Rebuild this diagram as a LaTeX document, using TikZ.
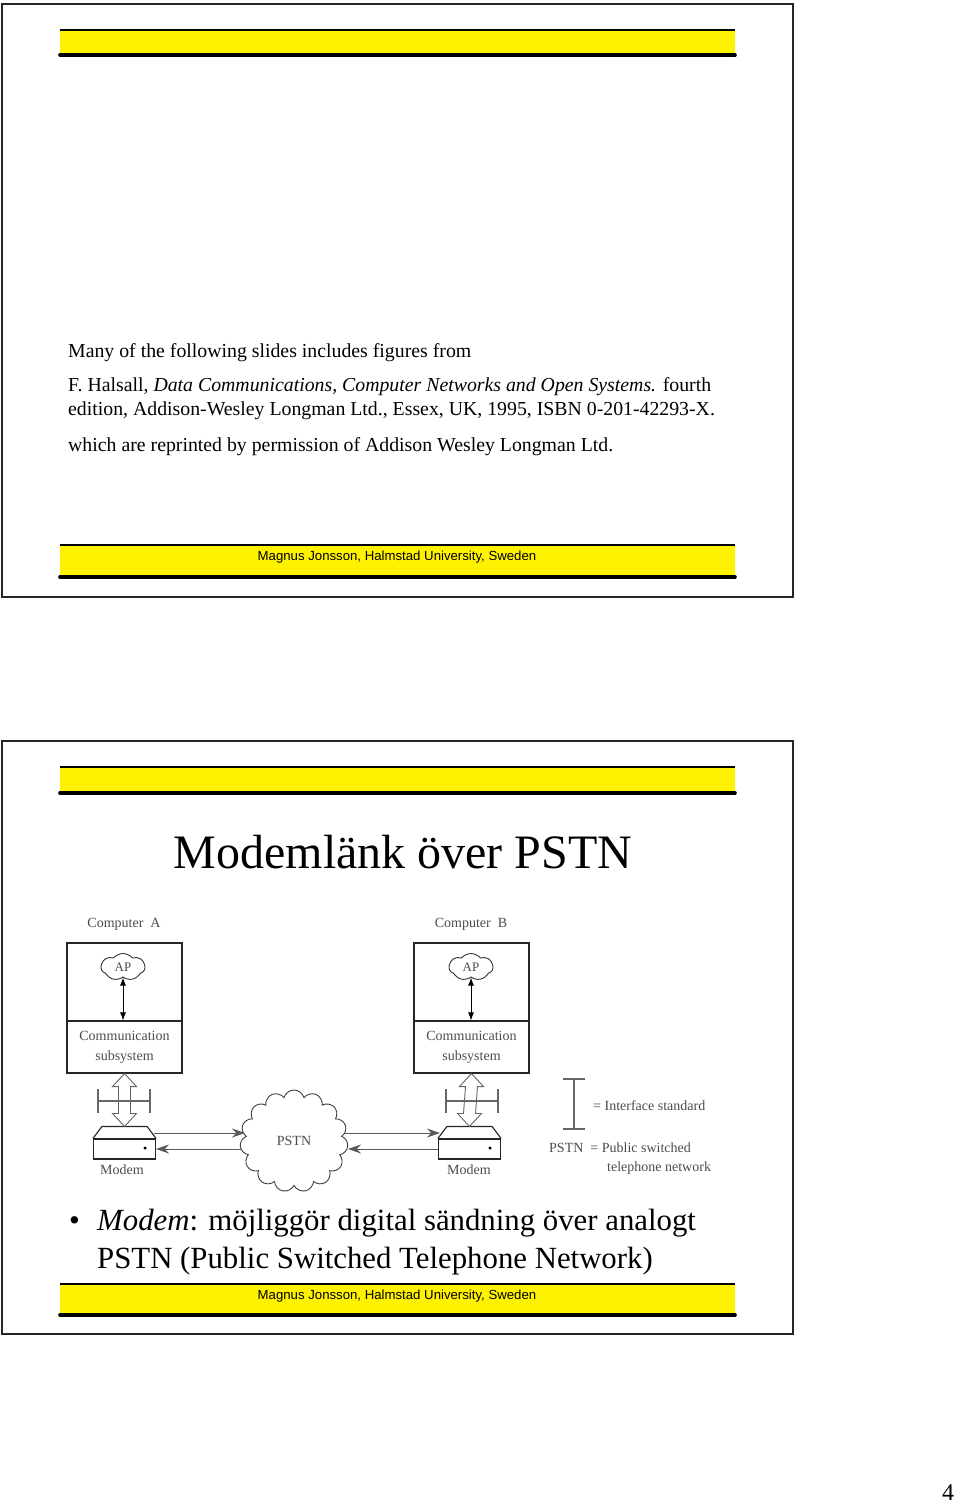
\documentclass[tikz,border=0pt]{standalone}
\usepackage{fontspec}
\setmainfont{Liberation Serif}
\newfontfamily\arialf{Liberation Sans}
\usetikzlibrary{shapes.symbols,arrows.meta,calc}
\tikzset{
  slideframe/.style={draw=black!85, line width=1.6pt},
  ybar/.style={fill=yellow, draw=none},
  bartop/.style={line width=1.8pt},
  barbot/.style={line width=3.6pt, line cap=round},
  foottext/.style={font=\arialf\fontsize{13.2}{15}\selectfont, inner sep=0},
  bodytext/.style={font=\fontsize{19.8}{22}\selectfont, anchor=base west, inner sep=0},
  bigtext/.style={font=\fontsize{30.8}{34}\selectfont, anchor=base west, inner sep=0},
  lbl/.style={font=\fontsize{14}{20}\selectfont, text=black!70, inner sep=0},
  box/.style={draw=black!85, line width=1.1pt, minimum width=115pt, inner sep=0,
     font=\fontsize{14}{20}\selectfont, text=black!70},
  apcloud/.style={cloud, cloud puffs=7, cloud puff arc=100, cloud ignores aspect, draw=black!80, line width=0.9pt,
     minimum width=44pt, minimum height=27pt, inner sep=0, font=\fontsize{13}{14}\selectfont, text=black!70},
  netcloud/.style={cloud, cloud puffs=15, cloud ignores aspect, draw=black!75, line width=0.9pt,
     minimum width=108pt, minimum height=102pt, inner sep=0, font=\fontsize{14}{14}\selectfont, text=black!70},
  modembox/.style={draw=black!85, line width=1.1pt, minimum width=62pt, minimum height=20pt, inner sep=0},
  dblarr/.style={{Latex[length=8pt,width=6pt]}-{Latex[length=8pt,width=6pt]}, line width=0.9pt},
  sarr/.style={-{Stealth[length=13pt,width=9pt]}, draw=black!65, line width=0.9pt},
  hollowarr/.style={draw=black!60, line width=0.9pt},
  iface/.style={draw=black!60, line width=1.4pt},
}
\newcommand\hollowdarrow[2]{%
  \draw[hollowarr] (#1) -- ++(12,13) -- ++(-6,0) -- ($(#2)+(6,-13)$) -- ++(6,0) -- (#2)
    -- ++(-12,-13) -- ++(6,0) -- ($(#1)+(-6,13)$) -- ++(-6,0) -- cycle;}
\newcommand\ifacesym[3]{% x left, x right, y
  \draw[iface] (#1,#3-12) -- (#1,#3+12) (#1,#3) -- (#2,#3) (#2,#3-12) -- (#2,#3+12);}
\newcommand\yellowbar[2]{% y top, y bottom
  \fill[ybar] (60,#1) rectangle (735,#2);
  \draw[bartop] (60,#1) -- (735,#1);
  \draw[barbot] (60,#2) -- (735,#2);}
\begin{document}
\begin{tikzpicture}[x=1pt,y=-1pt]
\useasboundingbox (0,0) rectangle (960,1506);
\fill[white] (0,0) rectangle (960,1506);

% ---------------- slide 1 ----------------
\draw[slideframe] (2,4) rectangle (793,597);
\yellowbar{30}{55}
\node[bodytext] (l1) at (68,357) {Many of the following slides includes figures from};
\node[bodytext] (l2) at (68,391) {F. Halsall, \textit{Data Communications, Computer Networks and Open Systems.} fourth};
\node[bodytext] (l3) at (68,415) {edition, Addison-Wesley Longman Ltd., Essex, UK, 1995, ISBN 0-201-42293-X.};
\node[bodytext] (l4) at (68,451) {which are reprinted by permission of Addison Wesley Longman Ltd.};
\yellowbar{545}{577}
\node[foottext] (f1) at (397,557) {Magnus Jonsson, Halmstad University, Sweden};

% ---------------- slide 2 ----------------
\draw[slideframe] (2,741) rectangle (793,1334);
\yellowbar{767}{793}
\node[font=\fontsize{48}{54}\selectfont, inner sep=0, anchor=base] (title) at (403,868) {Modemlänk över PSTN};

% computer A
\node[lbl] (cA) at (124,924) {Computer\ \ A};
\node[box, minimum height=78pt] (topA) at (124.5,982) {};
\node[box, minimum height=52pt, align=center] (commA) at (124.5,1047) {Communication\\subsystem};
\node[apcloud] (apA) at (123,967) {AP};
\draw[dblarr] (apA.south) -- (apA.south |- commA.north);

% computer B
\node[lbl] (cB) at (471,924) {Computer\ \ B};
\node[box, minimum height=78pt] (topB) at (471.5,982) {};
\node[box, minimum height=52pt, align=center] (commB) at (471.5,1047) {Communication\\subsystem};
\node[apcloud] (apB) at (471,967) {AP};
\draw[dblarr] (apB.south) -- (apB.south |- commB.north);

% modems
\node[modembox] (modemA) at (124.5,1149) {};
\draw[draw=black!85, line width=1.1pt] (modemA.north west) -- ++(9,-12) -- ($(modemA.north east)+(-9,-12)$) -- (modemA.north east);
\fill (modemA.east) ++(-11,-1) circle (1.7pt);
\node[lbl] (mA) at (122,1170) {Modem};
\coordinate (tA) at ($(modemA.north)+(0,-12)$);

\node[modembox] (modemB) at (469.5,1149) {};
\draw[draw=black!85, line width=1.1pt] (modemB.north west) -- ++(9,-12) -- ($(modemB.north east)+(-9,-12)$) -- (modemB.north east);
\fill (modemB.east) ++(-11,-1) circle (1.7pt);
\node[lbl] (mB) at (469,1170) {Modem};
\coordinate (tB) at ($(modemB.north)+(0,-12)$);

% hollow double arrows and interface symbols
\hollowdarrow{commA.south}{tA}
\hollowdarrow{commB.south}{tB}
\ifacesym{98}{150}{1101}
\ifacesym{446}{498}{1101}

% PSTN cloud
\node[netcloud] (pstn) at (294,1141) {PSTN};
\coordinate (pA1) at (245,1133);
\coordinate (pA2) at (241,1149);
\coordinate (pB1) at (344,1133);
\coordinate (pB2) at (348,1149);
\draw[sarr] ([xshift=-2pt,yshift=16pt]modemA.east) -- (pA1);
\draw[sarr] (pA2) -- (modemA.east);
\draw[sarr] (pB1) -- ([xshift=2pt,yshift=16pt]modemB.west);
\draw[sarr] (modemB.west) -- (pB2);

% legend
\draw[iface] (563,1079) -- (585,1079) (574,1079) -- (574,1129) (563,1129) -- (585,1129);
\node[lbl, anchor=west] (lg1) at (593,1106) {= Interface standard};
\node[lbl, anchor=west] (lg2) at (549,1148) {PSTN\ \ = Public switched};
\node[lbl, anchor=west] (lg3) at (607,1168) {telephone network};

% bullet text
\node[bigtext] (bul) at (69,1230) {\textbullet};
\node[bigtext] (b1) at (97,1230) {\textit{Modem}: möjliggör digital sändning över analogt};
\node[bigtext] (b2) at (97,1268) {PSTN (Public Switched Telephone Network)};

\yellowbar{1284}{1315}
\node[foottext] (f2) at (397,1296) {Magnus Jonsson, Halmstad University, Sweden};

% page number
\node[font=\fontsize{24}{28}\selectfont, inner sep=0] (pg) at (948,1493) {4};
\end{tikzpicture}
\end{document}
